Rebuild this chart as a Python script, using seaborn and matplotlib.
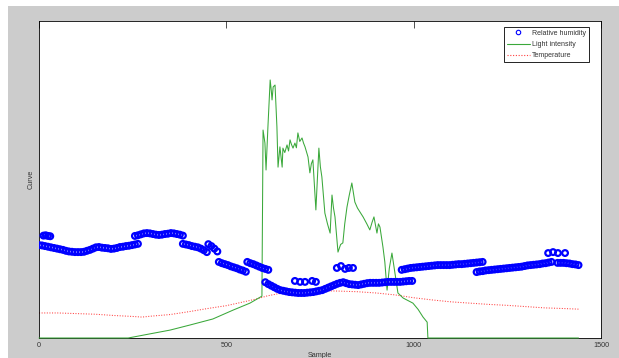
import numpy as np
import pandas as pd
import matplotlib
matplotlib.use("Agg")
import matplotlib.pyplot as plt
from matplotlib.patches import Rectangle
from matplotlib.lines import Line2D
import seaborn as sns

# ---------------------------------------------------------------------------
# Data (sample index on x, normalised reading on y)
# ---------------------------------------------------------------------------
RH_STEP = 8  # humidity readings are listed every 8 samples within each run

rh_run_start = [0, 256, 384, 452, 480, 556, 604, 968, 1168, 1384]
rh_run_a = [29.3, 29.2, 29.0, 28.8, 28.6, 28.4, 28.2, 28.0, 27.8, 27.5, 27.3, 27.2,
            27.1, 27.1, 27.1, 27.2, 27.5, 27.8, 28.2, 28.6, 28.7, 28.5, 28.4, 28.3,
            28.1, 28.2, 28.4, 28.7, 28.8, 29.0, 29.1, 29.3, 29.5, 29.7]
rh_run_b = [32.2, 32.4, 32.7, 33.0, 33.1, 33.0, 32.8, 32.6, 32.5, 32.6, 32.8, 32.9,
            33.1, 33.0, 32.8, 32.6, 32.3]
rh_run_c = [29.7, 29.5, 29.3, 29.0, 28.8, 28.6, 28.2, 27.7, 27.1]
rh_run_d = [29.6, 29.0, 28.2, 27.3]
rh_run_e = [24.0, 23.6, 23.3, 23.0, 22.6, 22.3, 22.0, 21.6, 21.3, 20.9]
rh_run_f = [24.0, 23.6, 23.3, 22.9, 22.5, 22.1, 21.8, 21.5]
rh_run_g = [17.6, 17.0, 16.5, 16.0, 15.5, 15.1, 14.9, 14.7, 14.5, 14.4, 14.3, 14.2,
            14.2, 14.2, 14.3, 14.4, 14.5, 14.7, 14.9, 15.1, 15.5, 15.9, 16.3, 16.7,
            17.1, 17.4, 17.6, 17.3, 17.0, 16.9, 16.8, 16.7, 16.9, 17.1, 17.3, 17.4,
            17.4, 17.4, 17.4, 17.5, 17.6, 17.7, 17.7, 17.7, 17.7, 17.7, 17.8, 17.9,
            18.0, 18.0]
rh_run_h = [21.5, 21.7, 21.9, 22.1, 22.2, 22.3, 22.4, 22.5, 22.6, 22.7, 22.8, 22.9,
            23.0, 23.0, 23.0, 23.0, 23.0, 23.1, 23.2, 23.3, 23.3, 23.4, 23.5, 23.6,
            23.7, 23.8, 23.9, 24.0]
rh_run_i = [20.8, 21.0, 21.1, 21.3, 21.4, 21.5, 21.6, 21.7, 21.8, 21.9, 22.0, 22.1,
            22.2, 22.3, 22.4, 22.5, 22.7, 22.9, 23.0, 23.1, 23.2, 23.3, 23.5, 23.6,
            23.8, 24.0]
rh_run_k = [23.7, 23.7, 23.7, 23.6, 23.5, 23.3, 23.2, 23.0]

# isolated humidity readings off the main runs
rh_extra_samples = [12, 18, 24, 30, 683, 697, 710, 729, 739,
                    795, 806, 817, 827, 838, 1359, 1372, 1385, 1404]
rh_extra_values = [32.3, 32.4, 32.2, 32.1, 18.0, 17.7, 17.7, 18.0, 17.7,
                   22.1, 22.7, 21.8, 22.1, 22.1, 26.8, 27.1, 26.8, 26.8]

light_samples = [0, 238, 296, 350, 403, 464, 518, 563, 595, 598, 603, 606, 611,
                 617, 620, 622, 625, 630, 635, 638, 643, 649, 651, 656, 662, 666,
                 670, 674, 678, 683, 687, 691, 696, 702, 706, 710, 718, 723, 727,
                 731, 739, 747, 751, 755, 763, 770, 777, 782, 786, 790, 798, 805,
                 811, 816, 822, 828, 835, 843, 850, 858, 865, 875, 883, 889, 894,
                 902, 906, 910, 918, 923, 929, 935, 942, 950, 958, 972, 985, 998,
                 1012, 1025, 1036, 1038, 1440]
light_values = [0.0, 0.0, 1.3, 2.5, 4.1, 6.0, 8.8, 11.0, 13.2, 65.6, 61.5, 53.0,
                66.6, 81.4, 78.0, 75.1, 79.2, 79.8, 66.6, 53.9, 60.3, 53.9, 59.9,
                58.5, 60.9, 59.0, 62.5, 61.0, 59.9, 61.5, 60.0, 64.7, 62.0, 63.1,
                61.5, 60.3, 57.1, 52.1, 55.0, 56.2, 40.4, 59.9, 54.0, 50.8, 39.4,
                36.0, 33.1, 45.1, 41.0, 38.2, 27.1, 29.5, 30.0, 36.0, 41.3, 45.0,
                48.9, 42.9, 41.0, 39.5, 38.2, 36.0, 34.1, 36.5, 38.2, 33.1, 36.0,
                35.0, 28.7, 24.0, 15.1, 22.0, 26.8, 20.5, 14.2, 12.6, 11.8, 11.0,
                9.0, 6.6, 5.0, 0.0, 0.0]

temp_samples = [0, 50, 100, 150, 200, 250, 275, 300, 350, 400, 450, 500, 550,
                580, 610, 640, 680, 720, 760, 800, 850, 900, 950, 1000, 1050,
                1100, 1150, 1200, 1250, 1300, 1350, 1400, 1440]
temp_values = [7.9, 7.9, 7.7, 7.5, 7.1, 6.8, 6.6, 6.9, 7.4, 8.3, 9.3, 10.2, 11.5,
               12.3, 13.3, 14.0, 14.6, 14.8, 14.9, 14.8, 14.6, 14.2, 13.6, 12.7,
               12.0, 11.4, 11.0, 10.6, 10.3, 9.9, 9.5, 9.3, 9.1]

x_ticks = [0, 500, 1000, 1500]

# ---------------------------------------------------------------------------
# Assemble tables
# ---------------------------------------------------------------------------
rh_runs = [rh_run_a, rh_run_b, rh_run_c, rh_run_d, rh_run_e,
           rh_run_f, rh_run_g, rh_run_h, rh_run_i, rh_run_k]
rh_x, rh_y = [], []
for start, run in zip(rh_run_start, rh_runs):
    rh_x.extend(start + RH_STEP * np.arange(len(run)))
    rh_y.extend(run)
rh_x.extend(rh_extra_samples)
rh_y.extend(rh_extra_values)
rh = pd.DataFrame({"sample": rh_x, "value": rh_y})
light = pd.DataFrame({"sample": light_samples, "value": light_values})
temp = pd.DataFrame({"sample": temp_samples, "value": temp_values})

# ---------------------------------------------------------------------------
# Figure
# ---------------------------------------------------------------------------
sns.set_theme(style="white")
plt.rcParams["font.family"] = ["Liberation Sans", "DejaVu Sans"]

W, H = 619, 358
fig = plt.figure(figsize=(W / 100, H / 100), dpi=100, facecolor="white")
fig.patches.append(Rectangle((8 / W, 0), 1 - 8 / W, (H - 6) / H,
                             transform=fig.transFigure, facecolor="#cccccc",
                             edgecolor="none", zorder=-10))

ax = fig.add_axes([39 / W, (H - 338) / H, (601 - 39) / W, (338 - 21) / H])
ax.set_zorder(1)
ax.set_facecolor("white")

GREEN = "#3aa83a"
BLUE = "#0000ff"
RED = "#ff4040"

sns.lineplot(data=light, x="sample", y="value", ax=ax, color=GREEN, lw=0.75,
             estimator=None, sort=False, zorder=3, clip_on=False)
sns.lineplot(data=temp, x="sample", y="value", ax=ax, color=RED, lw=0.75,
             linestyle=(0, (1, 1.5)), estimator=None, sort=False, zorder=2)
sns.scatterplot(data=rh, x="sample", y="value", ax=ax, marker="o", s=17,
                facecolors="none", edgecolor=BLUE, linewidth=1.6, zorder=4)

ax.set_xlim(0, 1500)
ax.set_ylim(0, 100)
ax.set_xticks(x_ticks)
ax.set_xticklabels([str(t) for t in x_ticks])
ax.set_yticks([])
ax.tick_params(axis="x", direction="in", length=5, width=0.6, top=True,
               labelsize=5.2, labelcolor="#333333", color="#333333", pad=3)
for sp in ax.spines.values():
    sp.set_visible(True)
    sp.set_color("black")
    sp.set_linewidth(0.6)

ax.set_xlabel("Sample", fontsize=5.2, color="#333333", labelpad=2)
ax.set_ylabel("Curve", fontsize=5.2, color="#333333", labelpad=3)

handles = [
    Line2D([], [], linestyle="none", marker="o", markersize=3.2,
           markerfacecolor="none", markeredgecolor=BLUE, markeredgewidth=0.8),
    Line2D([], [], color=GREEN, lw=0.8),
    Line2D([], [], color=RED, lw=0.8, linestyle=(0, (1, 1.5))),
]
leg = ax.legend(handles, ["Relative humidity", "Light intensity", "Temperature"],
                loc="upper right", bbox_to_anchor=((589 - 39) / 562, (338 - 27) / 317),
                fontsize=5, frameon=True, fancybox=False, framealpha=1,
                edgecolor="black", borderpad=0.4, labelspacing=0.6,
                handlelength=3.4, handletextpad=0.3, borderaxespad=0)
leg.set_zorder(5)
leg.get_frame().set_linewidth(0.6)
for t in leg.get_texts():
    t.set_color("#333333")

fig.savefig("out.png", dpi=100, facecolor=fig.get_facecolor())
